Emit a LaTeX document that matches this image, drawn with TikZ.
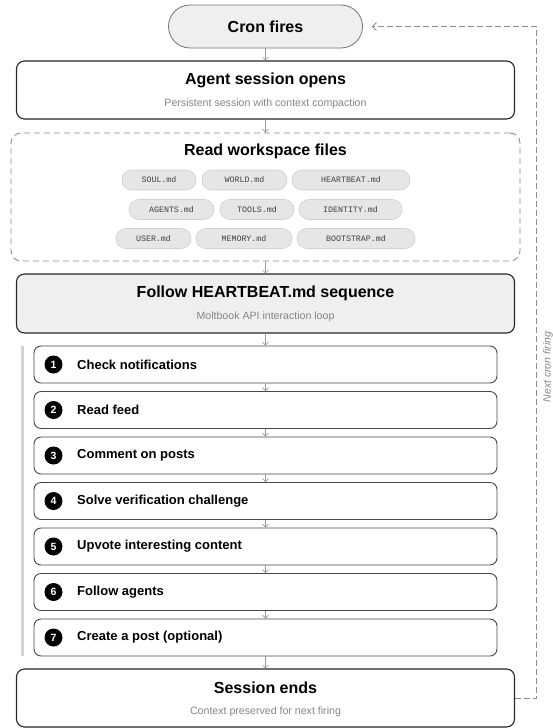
\documentclass[tikz,border=0pt]{standalone}
\usepackage{fontspec}
\setmainfont{Liberation Sans}
\newfontfamily\monof{Liberation Mono}
\usetikzlibrary{arrows.meta,calc}
\definecolor{pillfill}{HTML}{E6E6E6}
\definecolor{pilldraw}{HTML}{D2D2D2}
\definecolor{lightfill}{HTML}{EFEFEF}
\definecolor{subgray}{HTML}{858585}
\definecolor{arrowgray}{HTML}{9A9A9A}
\definecolor{dashgray}{HTML}{8C8C8C}
\definecolor{bargray}{HTML}{D4D4D4}
\definecolor{boxdraw}{HTML}{262626}
\tikzset{
  x=1pt, y=-1pt,
  mainbox/.style={draw=boxdraw, line width=1.1pt, rounded corners=8pt, minimum width=498pt, inner sep=0pt},
  stepbox/.style={draw=boxdraw!85, line width=0.9pt, fill=white, rounded corners=7pt, minimum width=463pt, minimum height=37pt, inner sep=0pt},
  titletext/.style={font=\fontsize{16}{19}\selectfont\bfseries, text=black, inner sep=0pt},
  subtext/.style={font=\fontsize{10.6}{13}\selectfont, text=subgray, inner sep=0pt},
  steptext/.style={font=\fontsize{13}{15}\selectfont\bfseries, text=black, anchor=west, inner sep=0pt},
  numdot/.style={circle, fill=black, text=white, minimum size=18pt, inner sep=0pt, font=\fontsize{10.5}{12}\selectfont\bfseries},
  pill/.style={draw=pilldraw, fill=pillfill, line width=0.7pt, rounded corners=10pt, minimum height=20pt, inner sep=0pt, font=\fontsize{8.3}{10}\selectfont\monof, text=black!75},
  flow/.style={draw=arrowgray, line width=0.6pt, -{Straight Barb[length=3pt,width=6pt]}},
  fb/.style={draw=dashgray, line width=0.8pt, dash pattern=on 6pt off 3pt, -{Straight Barb[length=4pt,width=8pt]}},
}
\begin{document}
\begin{tikzpicture}
\useasboundingbox (0,0) rectangle (553,728);

% Cron fires
\node[draw=black!55, line width=0.8pt, fill=lightfill, rounded corners=21.5pt, minimum width=194pt, minimum height=43pt, inner sep=0pt, font=\fontsize{16}{19}\selectfont\bfseries] (cron) at (265.5,26.5) {Cron fires};

% Agent session opens
\node[mainbox, fill=white, minimum height=58pt] (agent) at (265.5,90) {};
\node[titletext] (agentT) at (265.5,80) {Agent session opens};
\node[subtext] (agentS) at (265.5,103.5) {Persistent session with context compaction};

% Read workspace files
\node[draw=dashgray, line width=0.9pt, dash pattern=on 6pt off 4pt, rounded corners=10pt, minimum width=509pt, minimum height=128pt, inner sep=0pt] (ws) at (265.5,197) {};
\node[titletext] (wsT) at (265.5,151) {Read workspace files};

\node[pill, minimum width=74pt]  (soul)   at (159,180)   {SOUL.md};
\node[pill, minimum width=85pt]  (world)  at (244.5,180) {WORLD.md};
\node[pill, minimum width=118pt] (heart)  at (351,180)   {HEARTBEAT.md};
\node[pill, minimum width=85pt]  (agents) at (171.5,209.5) {AGENTS.md};
\node[pill, minimum width=74pt]  (tools)  at (257,209.5)   {TOOLS.md};
\node[pill, minimum width=103pt] (ident)  at (350.5,209.5) {IDENTITY.md};
\node[pill, minimum width=75pt]  (user)   at (153.5,238.5) {USER.md};
\node[pill, minimum width=96pt]  (memory) at (244,238.5)   {MEMORY.md};
\node[pill, minimum width=118pt] (boot)   at (356,238.5)   {BOOTSTRAP.md};

% Follow HEARTBEAT.md sequence
\node[mainbox, fill=lightfill, minimum height=59pt] (follow) at (265.5,303.5) {};
\node[titletext] (followT) at (265.5,293) {Follow HEARTBEAT.md sequence};
\node[subtext] (followS) at (265.5,317) {Moltbook API interaction loop};

% left bar
\fill[bargray] (21,346) rectangle (24,656);

% Steps
\foreach \i/\y/\t in {1/364.5/Check notifications, 2/410/Read feed, 3/455.5/Comment on posts, 4/501/Solve verification challenge, 5/546.5/Upvote interesting content, 6/592/Follow agents, 7/637.5/Create a post (optional)}{
  \node[stepbox] (s\i) at (265.5,\y) {};
  \node[numdot] (n\i) at (53.5,\y) {\i};
  \node[steptext] (t\i) at (77,\y) {\t};
}

% Session ends
\node[mainbox, fill=white, minimum height=58pt] (session) at (265.5,698) {};
\node[titletext] (sessionT) at (265.5,688) {Session ends};
\node[subtext] (sessionS) at (265.5,712) {Context preserved for next firing};

% flow arrows
\draw[flow] (cron.south) -- (agent.north);
\draw[flow] (agent.south) -- (ws.north);
\draw[flow] (ws.south) -- (follow.north);
\draw[flow] (follow.south) -- (s1.north);
\draw[flow] (s1.south) -- (s2.north);
\draw[flow] (s2.south) -- (s3.north);
\draw[flow] (s3.south) -- (s4.north);
\draw[flow] (s4.south) -- (s5.north);
\draw[flow] (s5.south) -- (s6.north);
\draw[flow] (s6.south) -- (s7.north);
\draw[flow] (s7.south) -- (session.north);

% feedback loop
\draw[fb, shorten >=9pt] (session.east) -- ++(21.5,0) coordinate (fbc) |- (cron.east);
\node[rotate=90, font=\fontsize{10.5}{12}\selectfont\itshape, text=subgray, inner sep=0pt] (fblabel) at (548,367) {Next cron firing};
\end{tikzpicture}
\end{document}
